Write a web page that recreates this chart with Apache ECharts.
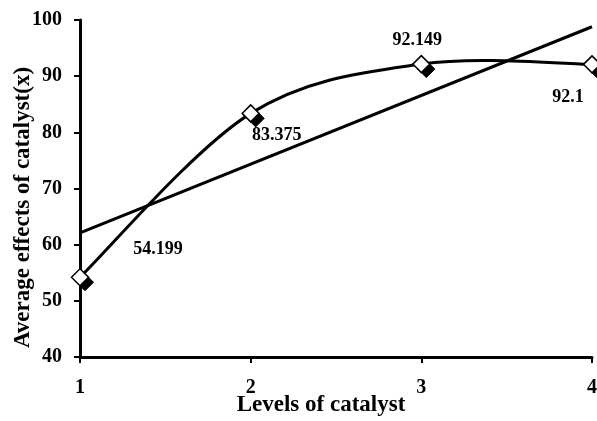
<!DOCTYPE html>
<html>
<head>
<meta charset="utf-8">
<script src="https://cdn.jsdelivr.net/npm/echarts@6/dist/echarts.min.js"></script>
<style>html,body{margin:0;padding:0;background:#fff}#c{width:597px;height:421px}</style>
</head>
<body>
<div id="c"></div>
<script>
var levels = [1, 2, 3, 4];
var effects = [54.199, 83.375, 92.149, 92.1];
var valueLabels = ['54.199', '83.375', '92.149', '92.1'];
var labelOffsets = [[78, -28], [26, 22], [-4, -24], [-24, 33]];
var trendX = [1, 4];
var trendY = [62.1, 98.8];
var yTicks = [40, 50, 60, 70, 80, 90, 100];

var font = '"Liberation Serif", "Times New Roman", serif';
var pts = levels.map(function (x, i) { return [x, effects[i]]; });
var labeled = levels.map(function (x, i) {
  return {
    value: [x, effects[i]],
    label: { show: true, position: 'inside', offset: labelOffsets[i], formatter: valueLabels[i] }
  };
});

// Excel-style smoothed line (Catmull-Rom bezier) built from data coords via the axes
function renderSmooth(params, api) {
  if (params.dataIndex !== 0) return null;
  var P = pts.map(function (p) { return api.coord(p); });
  var n = P.length;
  var d = 'M' + P[0][0] + ',' + P[0][1];
  for (var i = 0; i < n - 1; i++) {
    var p0 = P[Math.max(i - 1, 0)], p1 = P[i], p2 = P[i + 1], p3 = P[Math.min(i + 2, n - 1)];
    var c1 = [p1[0] + (p2[0] - p0[0]) / 6, p1[1] + (p2[1] - p0[1]) / 6];
    var c2 = [p2[0] - (p3[0] - p1[0]) / 6, p2[1] - (p3[1] - p1[1]) / 6];
    d += ' C' + c1[0] + ',' + c1[1] + ' ' + c2[0] + ',' + c2[1] + ' ' + p2[0] + ',' + p2[1];
  }
  return {
    type: 'path',
    shape: { pathData: d },
    style: { fill: null, stroke: '#000', lineWidth: 3 }
  };
}

var chart = echarts.init(document.getElementById('c'));
chart.setOption({
  backgroundColor: '#fff',
  animation: false,
  grid: { left: 80, right: 5, top: 20, bottom: 64, containLabel: false, outerBoundsMode: 'none' },
  xAxis: {
    type: 'value', min: 1, max: 4, interval: 1,
    name: 'Levels of catalyst', nameLocation: 'middle', nameGap: 37, nameMoveOverlap: false,
    nameTextStyle: { fontFamily: font, fontWeight: 'bold', fontSize: 23, color: '#000', padding: [0, 30, 0, 0] },
    axisLine: { lineStyle: { color: '#000', width: 3 } },
    axisTick: { show: true, inside: false, length: 6, lineStyle: { color: '#000', width: 2 } },
    axisLabel: { fontFamily: font, fontWeight: 'bold', fontSize: 20, color: '#000', margin: 21 },
    splitLine: { show: false }
  },
  yAxis: {
    type: 'value', min: yTicks[0], max: yTicks[yTicks.length - 1], interval: 10,
    name: 'Average effects of catalyst(x)', nameLocation: 'middle', nameGap: 45, nameMoveOverlap: false,
    nameTextStyle: { fontFamily: font, fontWeight: 'bold', fontSize: 23, color: '#000', padding: [0, 38, 0, 0] },
    axisLine: { show: true, lineStyle: { color: '#000', width: 3 } },
    axisTick: { show: true, inside: false, length: 6, lineStyle: { color: '#000', width: 2 } },
    axisLabel: { fontFamily: font, fontWeight: 'bold', fontSize: 20, color: '#000', margin: 18 },
    splitLine: { show: false }
  },
  series: [
    {
      type: 'line', data: trendX.map(function (x, i) { return [x, trendY[i]]; }),
      showSymbol: false, lineStyle: { color: '#000', width: 3 }, z: 2, silent: true
    },
    {
      type: 'custom', data: pts, renderItem: renderSmooth, z: 2, silent: true, clip: false
    },
    {
      type: 'scatter', data: pts, symbol: 'diamond', symbolSize: 17, symbolOffset: [5, 5],
      itemStyle: { color: '#000', borderColor: '#000', borderWidth: 1, opacity: 1 }, z: 3, silent: true
    },
    {
      type: 'scatter', data: labeled, symbol: 'diamond', symbolSize: 17,
      itemStyle: { color: '#fff', borderColor: '#000', borderWidth: 1.5, opacity: 1 },
      label: { fontFamily: font, fontWeight: 'bold', fontSize: 18, color: '#000' },
      z: 4, silent: true
    }
  ]
});
</script>
</body>
</html>
